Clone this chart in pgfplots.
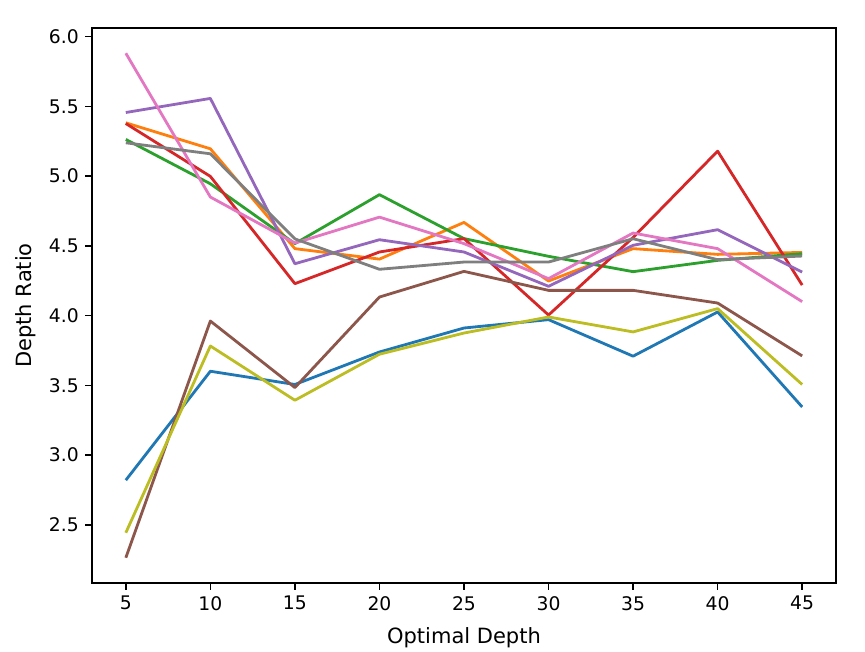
\documentclass[border=0pt]{standalone}
\usepackage{fontspec}
\setmainfont{DejaVu Sans}
\usepackage{pgfplots}
\pgfplotsset{compat=1.18}
\definecolor{c0}{HTML}{1F77B4}
\definecolor{c1}{HTML}{FF7F0E}
\definecolor{c2}{HTML}{2CA02C}
\definecolor{c3}{HTML}{D62728}
\definecolor{c4}{HTML}{9467BD}
\definecolor{c5}{HTML}{8C564B}
\definecolor{c6}{HTML}{E377C2}
\definecolor{c7}{HTML}{7F7F7F}
\definecolor{c8}{HTML}{BCBD22}
\begin{document}
\fontsize{10pt}{12pt}\selectfont
\begin{tikzpicture}
\useasboundingbox (-49.07pt,-36.8pt) rectangle (412.27pt,310.93pt);
\begin{axis}[
  at={(0,0)}, anchor=south west,
  scale only axis, width=396.8pt, height=296pt,
  xmin=3, xmax=47, ymin=2.083, ymax=6.062,
  xtick={5,10,...,45},
  ytick={2.5,3.0,3.5,4.0,4.5,5.0,5.5,6.0},
  tick align=outside,
  major tick length=3.5pt,
  every tick/.style={line width=0.8pt, black},
  axis line style={line width=0.8pt},
  xtick pos=bottom, ytick pos=left,
  /pgf/number format/assume math mode=true,
  yticklabel style={/pgf/number format/.cd, fixed, fixed zerofill, precision=1},
  ticklabel style={font=\fontsize{10pt}{12pt}\selectfont},
  xlabel={Optimal Depth}, ylabel={Depth Ratio},
  label style={font=\fontsize{11.2pt}{13pt}\selectfont},
  xlabel style={at={(axis description cs:0.5,-0.1085)}, anchor=base},
  ylabel style={at={(axis description cs:-0.0815,0.5)}, anchor=base},
  every axis plot/.append style={line width=1.5pt, mark=none, line join=round},
]
\addplot[c0] coordinates {(5,2.820) (10,3.601) (15,3.506) (20,3.739) (25,3.911) (30,3.971) (35,3.709) (40,4.026) (45,3.345)};
\addplot[c1] coordinates {(5,5.382) (10,5.196) (15,4.480) (20,4.405) (25,4.668) (30,4.248) (35,4.480) (40,4.439) (45,4.453)};
\addplot[c2] coordinates {(5,5.263) (10,4.945) (15,4.516) (20,4.867) (25,4.552) (30,4.425) (35,4.315) (40,4.396) (45,4.444)};
\addplot[c3] coordinates {(5,5.377) (10,4.998) (15,4.229) (20,4.456) (25,4.552) (30,4.004) (35,4.560) (40,5.179) (45,4.219)};
\addplot[c4] coordinates {(5,5.456) (10,5.557) (15,4.372) (20,4.544) (25,4.456) (30,4.210) (35,4.504) (40,4.616) (45,4.312)};
\addplot[c5] coordinates {(5,2.264) (10,3.961) (15,3.484) (20,4.133) (25,4.317) (30,4.181) (35,4.181) (40,4.090) (45,3.711)};
\addplot[c6] coordinates {(5,5.881) (10,4.850) (15,4.520) (20,4.706) (25,4.516) (30,4.265) (35,4.592) (40,4.480) (45,4.100)};
\addplot[c7] coordinates {(5,5.239) (10,5.160) (15,4.550) (20,4.332) (25,4.384) (30,4.384) (35,4.551) (40,4.401) (45,4.427)};
\addplot[c8] coordinates {(5,2.443) (10,3.782) (15,3.393) (20,3.723) (25,3.875) (30,3.990) (35,3.883) (40,4.050) (45,3.506)};
\end{axis}
\end{tikzpicture}
\end{document}
